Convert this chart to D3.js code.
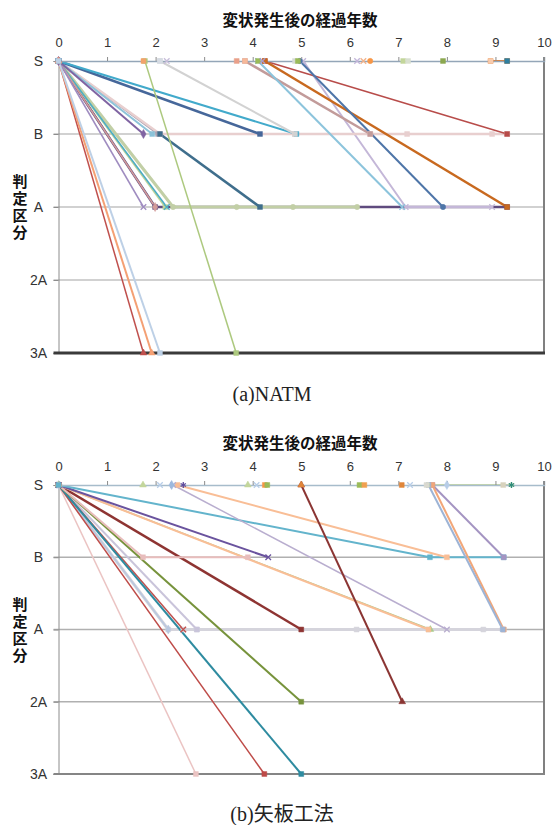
<!DOCTYPE html>
<html>
<head>
<meta charset="utf-8">
<script src="https://cdn.jsdelivr.net/npm/d3@7"></script>
<style>
  body { margin: 0; background: #fff; }
  text { font-family: "Liberation Sans", Arial, sans-serif; }
  .jp { font-family: "Noto Sans CJK JP", sans-serif; }
</style>
</head>
<body>
<svg id="canvas" width="554" height="825"></svg>
<script>
(function (d3) {

    const grades = ['S', 'B', 'A', '2A', '3A'];
    const yearTicks = d3.range(0, 11);
    const xTitle = '変状発生後の経過年数';
    const yTitle = '判定区分';

    // (a) NATM : each path is a list of [years, grade]
    const natmPaths = [
        [[0, 'S'], [1.99, 'A'], [9.24, 'A']],
        [[5.04, 'S'], [7.15, 'A'], [8.93, 'A']],
        [[0, 'S'], [2.36, 'A'], [3.67, 'A'], [4.83, 'A'], [6.15, 'A']],
        [[0, 'S'], [2.2, 'A']],
        [[0, 'S'], [2.23, 'A']],
        [[0, 'S'], [1.99, 'A']],
        [[0, 'S'], [1.75, 'A']],
        [[0, 'S'], [2.05, 'B']],
        [[0, 'S'], [2.09, 'B'], [4.87, 'B'], [6.42, 'B'], [7.18, 'B'], [8.93, 'B'], [9.24, 'B']],
        [[2.09, 'B'], [4.15, 'A']],
        [[0, 'S'], [1.93, 'B']],
        [[0, 'S'], [1.75, 'B']],
        [[0, 'S'], [4.15, 'B']],
        [[0, 'S'], [4.9, 'B']],
        [[2.09, 'S'], [4.87, 'B']],
        [[3.84, 'S'], [6.42, 'B']],
        [[4.25, 'S'], [9.24, 'B']],
        [[4.25, 'S'], [9.24, 'A']],
        [[4.11, 'S'], [7.08, 'A']],
        [[4.97, 'S'], [7.92, 'A']],
        [[1.78, 'S'], [3.66, '3A']],
        [[0, 'S'], [1.75, '3A']],
        [[0, 'S'], [1.92, '3A']],
        [[0, 'S'], [2.09, '3A']],
        [[8.9, 'S'], [9.24, 'S']]
    ];
    // spans that stayed at S (marker only)
    const natmStay = [1.75, 2.09, 2.23, 3.67, 3.84, 4.11, 4.2, 4.87, 4.93, 6.15, 6.28, 6.42, 7.1, 7.2, 7.92, 8.9, 9.24];

    // (b) 矢板工法
    const yaitaPaths = [
        [[0, 'S'], [2.26, 'A'], [2.57, 'A'], [2.85, 'A'], [6.14, 'A'], [7.62, 'A'], [8.75, 'A'], [9.17, 'A']],
        [[0, 'S'], [2.85, 'A']],
        [[0, 'S'], [2.26, 'A']],
        [[0, 'S'], [2.57, 'A']],
        [[0, 'S'], [2.83, '3A']],
        [[0, 'S'], [4.24, '3A']],
        [[0, 'S'], [5.0, '3A']],
        [[0, 'S'], [5.0, '2A']],
        [[0, 'S'], [5.0, 'A']],
        [[0, 'S'], [7.66, 'A']],
        [[0, 'S'], [7.62, 'A']],
        [[0, 'S'], [1.74, 'B'], [3.9, 'B']],
        [[0, 'S'], [4.32, 'B']],
        [[0, 'S'], [7.65, 'B'], [9.17, 'B']],
        [[2.45, 'S'], [8.0, 'B']],
        [[2.36, 'S'], [8.0, 'A']],
        [[5.0, 'S'], [7.08, '2A']],
        [[7.7, 'S'], [9.17, 'B']],
        [[7.7, 'S'], [9.17, 'A']],
        [[7.62, 'S'], [9.15, 'A']],
        [[7.6, 'S'], [9.33, 'S']]
    ];
    const yaitaStay = [1.74, 2.09, 2.33, 2.57, 3.9, 4.08, 4.25, 4.3, 5.0, 6.2, 6.3, 7.07, 7.24, 7.58, 8.0, 9.16, 9.33];

    // styles: [colour, line width, marker]
    const natmStyle = [
        ['#5F4B7E', 2.5, 'sq'], ['#C4B7D8', 2, 'x'], ['#C2CFA6', 3, 'circ'], ['#BFD49A', 2, 'sq'],
        ['#4BACC6', 1.5, 'x'], ['#D39B9A', 1.5, 'dia'], ['#9F8CC0', 1.5, 'x'], ['#A9A2B2', 2, 'sq'],
        ['#E8CFCF', 2.5, 'sq'], ['#3F6E8C', 2.5, 'sq'], ['#8CC3D9', 2, 'sq'], ['#8064A2', 2, 'dia'],
        ['#46679A', 2.5, 'sq'], ['#42AACB', 2, 'sq'], ['#D2D2D2', 2, 'sq'], ['#C29B9A', 2.5, 'sq'],
        ['#B84C4A', 1.5, 'sq'], ['#C8691F', 2.5, 'sq'], ['#8CC4DC', 2, 'x'], ['#4E75A8', 2, 'circ'],
        ['#ADC97F', 1.5, 'sq'], ['#C0504D', 1.5, 'tri'], ['#F4A074', 2, 'tri'], ['#BDD0E6', 2, 'sq'],
        ['#E07B2C', 2, 'sq']
    ];
    const natmStayStyle = [
        ['#F2A36B', 'sq'], ['#D6DCE4', 'sq'], ['#C8BEDA', 'x'], ['#E9A08A', 'sq'], ['#F6B99A', 'sq'],
        ['#9BBB59', 'sq'], ['#A99BC8', 'x'], ['#D8DCD8', 'sq'], ['#9BBB59', 'sq'], ['#C3B6DA', 'x'],
        ['#F2B28A', 'x'], ['#F79646', 'circ'], ['#C3D69B', 'sq'], ['#D9E0D0', 'sq'], ['#8CA850', 'sq'],
        ['#F8CBAD', 'sq'], ['#2F7FA0', 'sq']
    ];
    const yaitaStyle = [
        ['#D5D4DC', 3, 'sq'], ['#C9C4DA', 2, 'sq'], ['#B9C8DF', 1.5, 'dia'], ['#C0504D', 1.5, 'x'],
        ['#EBC4C3', 1.5, 'sq'], ['#BE4B48', 1.5, 'sq'], ['#2E8BA0', 2, 'sq'], ['#77933C', 2, 'sq'],
        ['#8E3432', 2.5, 'sq'], ['#A9CB8A', 1.5, 'tri'], ['#F9BE96', 2, 'sq'], ['#E8BDBC', 2, 'sq'],
        ['#6A539E', 2, 'x'], ['#63B4CC', 2, 'sq'], ['#F9BE96', 2, 'sq'], ['#B9AECF', 1.5, 'x'],
        ['#8B3533', 2, 'tri'], ['#A494C2', 2, 'sq'], ['#F2A678', 2, 'sq'], ['#9DB4D6', 2, 'sq'],
        ['#C8DAA8', 2, 'star']
    ];
    const yaitaStayStyle = [
        ['#C3D69B', 'tri'], ['#B7CDE8', 'x'], ['#9DB9DE', 'dia'], ['#5E4A9C', 'star'], ['#C3D69B', 'tri'],
        ['#B7CDE8', 'x'], ['#F79646', 'sq'], ['#9BBB59', 'sq'], ['#E0863A', 'tri'], ['#9BBB59', 'sq'],
        ['#F0A050', 'sq'], ['#E0863A', 'sq'], ['#B7CDE8', 'x'], ['#D9D9D0', 'sq'], ['#B7CDE8', 'dia'],
        ['#D8D2BE', 'sq'], ['#2E8B7A', 'star']
    ];

    const LEFT = 58.5, RIGHT = 544;

    const symbols = {
        sq: [d3.symbolSquare, 24, true],
        tri: [d3.symbolTriangle, 20, true],
        dia: [d3.symbolDiamond, 24, true],
        circ: [d3.symbolCircle, 22, true],
        x: [d3.symbolTimes || d3.symbolCross, 22, false],
        star: [d3.symbolAsterisk || d3.symbolCross, 26, false]
    };

    function drawMarker(g, px, py, color, type) {
        let s = symbols[type];
        g.append('path')
            .attr('d', d3.symbol().type(s[0]).size(s[1])())
            .attr('transform', `translate(${px},${py})`)
            .attr('fill', s[2] ? color : 'none')
            .attr('stroke', color)
            .attr('stroke-width', s[2] ? 0.5 : 1.3);
    }

    function drawPanel(svg, cfg) {
        let x = d3.scaleLinear().domain([0, 10]).range([LEFT, RIGHT]);
        let y = d3.scalePoint().domain(grades).range([cfg.top, cfg.bottom]);
        let g = svg.append('g');

        // gridlines
        g.selectAll('line.grid').data(grades.slice(1, 4)).enter()
            .append('line').classed('grid', true)
            .attr('x1', LEFT - 5).attr('x2', RIGHT)
            .attr('y1', d => y(d)).attr('y2', d => y(d))
            .attr('stroke', cfg.gridColor).attr('stroke-width', cfg.gridWidth);

        // left axis
        let yAxis = d3.axisLeft(y).tickSize(5).tickPadding(0);
        let ya = g.append('g').attr('transform', `translate(${LEFT},0)`).call(yAxis);
        ya.select('.domain').attr('stroke', '#8c8c8c');
        ya.selectAll('.tick line').attr('stroke', '#8c8c8c');
        ya.selectAll('.tick text')
            .attr('text-anchor', 'middle').attr('x', -20)
            .attr('font-size', 14).attr('fill', '#333');

        // right border and bottom line
        g.append('line').attr('x1', RIGHT).attr('x2', RIGHT)
            .attr('y1', cfg.top - 4).attr('y2', cfg.bottom)
            .attr('stroke', '#808080').attr('stroke-width', 2);
        g.append('line').attr('x1', LEFT - 5).attr('x2', RIGHT + 1)
            .attr('y1', cfg.bottom).attr('y2', cfg.bottom)
            .attr('stroke', cfg.bottomColor).attr('stroke-width', cfg.bottomWidth);

        // series
        let line = d3.line().x(d => x(d[0])).y(d => y(d[1]));
        let sg = g.append('g');
        cfg.paths.forEach((p, i) => {
            let st = cfg.style[i];
            sg.append('path')
                .attr('d', line(p))
                .attr('fill', 'none')
                .attr('stroke', st[0])
                .attr('stroke-width', st[1])
                .attr('stroke-linejoin', 'round');
        });

        // top axis (drawn over the S level)
        let xAxis = d3.axisTop(x).tickValues(yearTicks).tickSize(4).tickPadding(10);
        let xa = g.append('g').attr('transform', `translate(0,${cfg.top})`).call(xAxis);
        xa.select('.domain').attr('stroke', cfg.sColor).attr('stroke-width', 1.5);
        xa.selectAll('.tick line').attr('stroke', '#8c8c8c');
        xa.selectAll('.tick text').attr('font-size', 13).attr('fill', '#333');

        // markers
        let mg = g.append('g');
        cfg.paths.forEach((p, i) => {
            let st = cfg.style[i];
            p.forEach(d => drawMarker(mg, x(d[0]), y(d[1]), st[0], st[2]));
        });
        cfg.stay.forEach((t, i) => {
            let st = cfg.stayStyle[i];
            drawMarker(mg, x(t), y('S'), st[0], st[1]);
        });

        // titles
        g.append('text').classed('jp', true)
            .attr('x', 300).attr('y', cfg.titleY)
            .attr('text-anchor', 'middle')
            .attr('font-size', 15.5).attr('font-weight', 'bold').attr('fill', '#111')
            .text(xTitle);
        // vertical axis title, one glyph per row
        g.append('text').classed('jp', true)
            .attr('x', 20).attr('y', y('A') - 33)
            .attr('writing-mode', 'vertical-rl')
            .style('writing-mode', 'vertical-rl')
            .style('letter-spacing', '2px')
            .attr('font-size', 15).attr('font-weight', 'bold').attr('fill', '#111')
            .text(yTitle);

        // caption
        svg.append('text')
            .attr('x', cfg.capX).attr('y', cfg.capY)
            .attr('text-anchor', 'middle')
            .attr('font-size', 20).attr('fill', '#222')
            .style('font-family', '"Liberation Serif", "Noto Sans CJK JP", serif')
            .text(cfg.caption);
    }

    let svg = d3.select('#canvas');
    svg.append('rect').attr('width', 554).attr('height', 825).attr('fill', '#fff');

    drawPanel(svg, {
        paths: natmPaths, style: natmStyle, stay: natmStay, stayStyle: natmStayStyle,
        top: 61, bottom: 353, titleY: 26,
        gridColor: '#a3a3a3', gridWidth: 1, bottomColor: '#3a3a3a', bottomWidth: 3, sColor: '#94a6b8',
        caption: '(a)NATM', capX: 272, capY: 401
    });
    drawPanel(svg, {
        paths: yaitaPaths, style: yaitaStyle, stay: yaitaStay, stayStyle: yaitaStayStyle,
        top: 485, bottom: 774, titleY: 449,
        gridColor: '#b0b0b0', gridWidth: 1.5, bottomColor: '#858585', bottomWidth: 2, sColor: '#a7bccb',
        caption: '(b)矢板工法', capX: 282, capY: 821
    });

})(d3);
</script>
</body>
</html>
